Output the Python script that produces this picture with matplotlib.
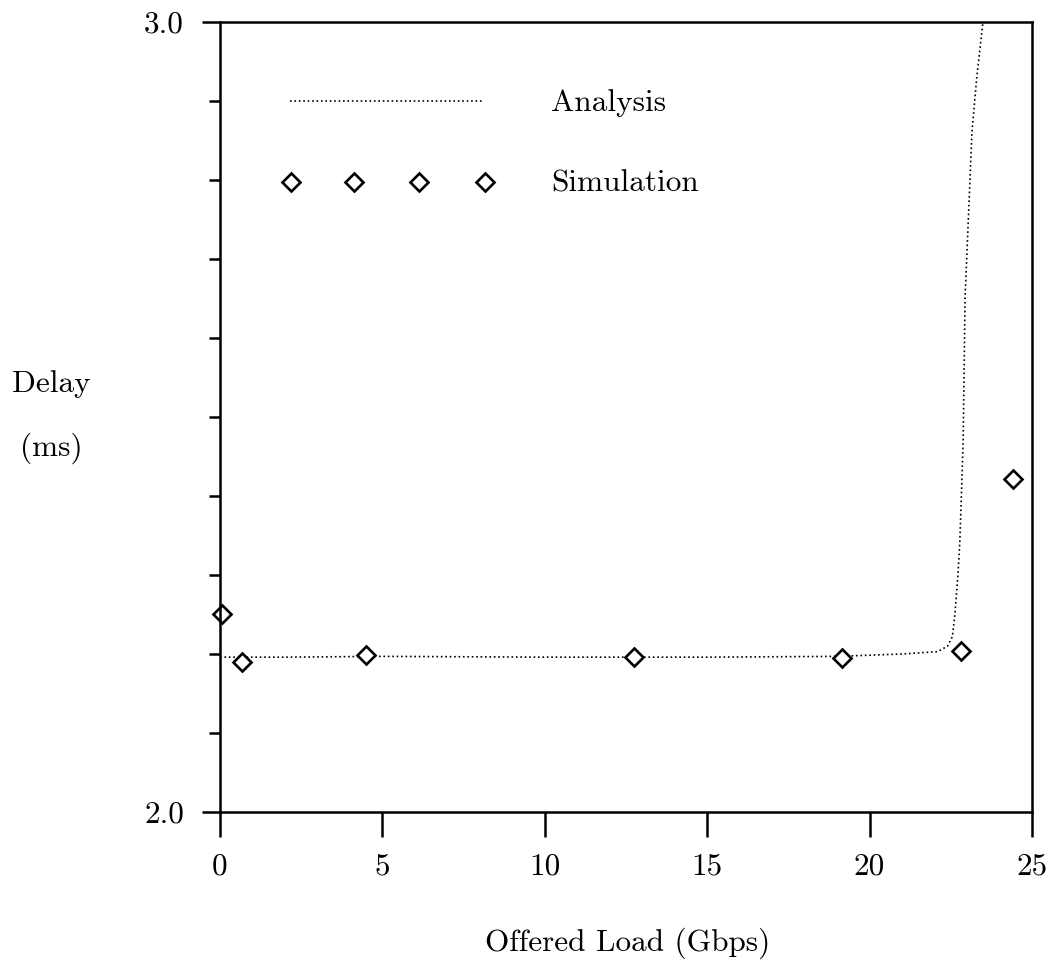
import matplotlib
matplotlib.use("Agg")
import matplotlib.pyplot as plt
from matplotlib.ticker import FixedLocator

plt.rcParams['font.family'] = ['cmr10', 'DejaVu Serif']
plt.rcParams['axes.formatter.use_mathtext'] = True

# analysis curve
ana_load = [0.0, 2.0, 5.0, 10.0, 15.0, 19.0, 21.0, 22.1, 22.4, 22.55, 22.63, 22.72, 22.78, 22.88, 22.94, 23.05, 23.15, 23.3, 23.49]
ana_delay = [2.196, 2.196, 2.197, 2.196, 2.196, 2.197, 2.200, 2.203, 2.210, 2.222, 2.252, 2.30, 2.344, 2.468, 2.652, 2.76, 2.86, 2.93, 3.0]

# simulation points
sim_load = [0.06, 0.68, 4.5, 12.75, 19.15, 22.8, 24.4]
sim_delay = [2.251, 2.190, 2.199, 2.196, 2.195, 2.204, 2.4215]

x_ticks = [0, 5, 10, 15, 20, 25]
y_ticks = [2.0, 3.0]
y_minor = [2.1, 2.2, 2.3, 2.4, 2.5, 2.6, 2.7, 2.8, 2.9]

FS = 22.5
MS = 9

fig = plt.figure(figsize=(10.57, 9.66), dpi=100)
ax = fig.add_axes([220/1057, 1 - 812/966, (1032-220)/1057, (812-22)/966])

ax.plot(ana_load, ana_delay, color='black', linestyle=':', linewidth=1.2)
ax.plot(sim_load, sim_delay, linestyle='none', marker='D', markersize=MS,
        markerfacecolor='white', markeredgecolor='black', markeredgewidth=1.9, clip_on=False)

# legend drawn by hand in data coords
ax.plot([2.15, 8.07], [2.9, 2.9], color='black', linestyle=':', linewidth=1.2)
ax.plot([2.19, 4.13, 6.13, 8.16], [2.798, 2.798, 2.798, 2.798], linestyle='none', marker='D', markersize=MS,
        markerfacecolor='white', markeredgecolor='black', markeredgewidth=1.9)
ax.text(10.2, 2.898, 'Analysis', fontsize=FS, va='center', ha='left')
ax.text(10.2, 2.796, 'Simulation', fontsize=FS, va='center', ha='left')

ax.set_xlim(0, 25)
ax.set_ylim(2.0, 3.0)
ax.set_xticks(x_ticks)
ax.set_xticklabels([str(v) for v in x_ticks], fontsize=FS)
ax.set_yticks(y_ticks)
ax.set_yticklabels(['2.0', '3.0'], fontsize=FS)
ax.yaxis.set_minor_locator(FixedLocator(y_minor))

ax.tick_params(axis='x', direction='out', length=18, width=1.8, pad=11)
ax.tick_params(axis='y', which='major', direction='out', length=13, width=1.8, pad=13)
ax.tick_params(axis='y', which='minor', direction='out', length=8, width=1.8)

for s in ax.spines.values():
    s.set_linewidth(1.8)

fig.text(51/1057, 1 - 384/966, 'Delay', fontsize=FS, ha='center', va='center')
fig.text(51/1057, 1 - 448/966, '(ms)', fontsize=FS, ha='center', va='center')
fig.text(628/1057, 1 - 943/966, 'Offered Load (Gbps)', fontsize=FS, ha='center', va='center')

fig.savefig('out.png', dpi=100)
